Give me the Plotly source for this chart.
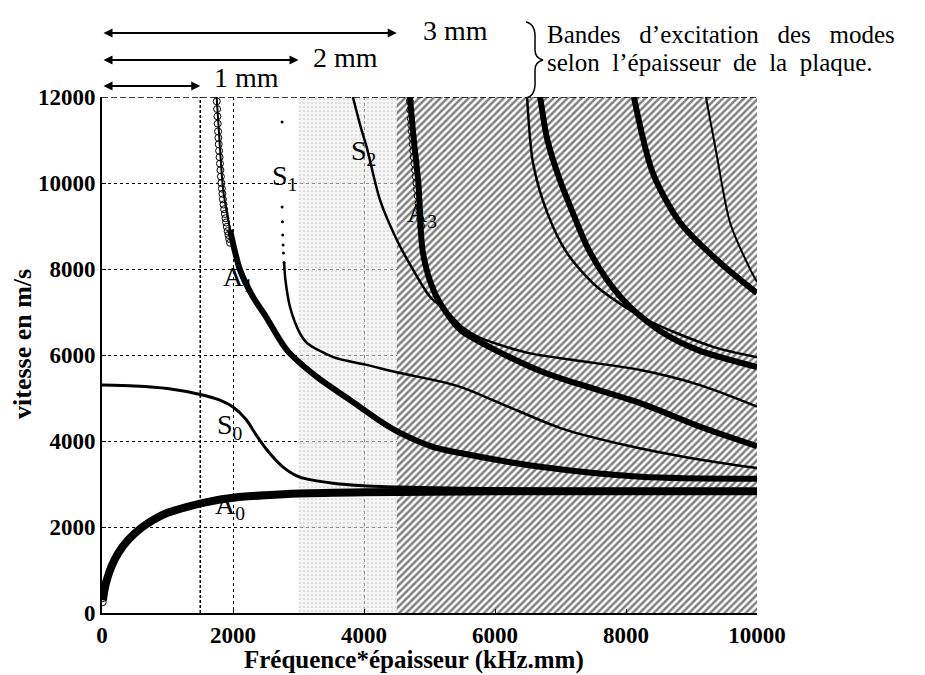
import plotly.graph_objects as go

# ================= data =================
# frequency*thickness in kHz.mm, phase velocity in m/s
A0_x = [15, 40, 80, 150, 250, 400, 600, 800, 1000, 1300, 1600, 2000, 2500, 3000, 4000, 5000, 6000, 8000, 10000]
A0_y = [300, 550, 800, 1100, 1400, 1700, 1980, 2180, 2330, 2470, 2580, 2680, 2740, 2780, 2810, 2820, 2830, 2830, 2830]
A0_ring_x = [10, 15, 20, 28, 38]
A0_ring_y = [250, 350, 450, 560, 680]

S0_x = [0, 500, 1000, 1500, 1800, 2000, 2200, 2350, 2520, 2760, 3020, 3530, 4000, 4550, 5500, 7000, 10000]
S0_y = [5300, 5280, 5220, 5080, 4950, 4790, 4500, 4150, 3790, 3400, 3160, 3020, 2960, 2930, 2900, 2880, 2870]

A1_x = [1750, 1800, 1850, 1955, 2107, 2306, 2500, 2820, 3280, 3790, 4290, 4550, 5060, 5470, 6690, 8220, 10000]
A1_y = [12000, 10840, 9840, 8910, 7980, 7350, 6900, 6120, 5490, 4950, 4420, 4190, 3860, 3720, 3400, 3170, 3120]
A1_ring_x = [1752, 1757, 1762, 1767, 1772, 1777, 1782, 1788, 1795, 1801, 1808, 1815, 1822, 1830,
             1838, 1846, 1855, 1865, 1875, 1885, 1895, 1906, 1918, 1930, 1942, 1955]
A1_ring_y = [11900, 11720, 11550, 11380, 11200, 11050, 10900, 10750, 10600, 10450, 10300, 10150, 10000, 9870,
             9750, 9620, 9500, 9390, 9280, 9180, 9080, 8980, 8880, 8790, 8700, 8610]

S1_dot_x = [2750, 2750, 2755, 2760, 2765, 2770, 2780]
S1_dot_y = [11420, 9440, 9100, 8790, 8560, 8370, 8150]
S1_x = [2780, 2800, 2870, 3020, 3130, 3530, 4040, 4550, 5060, 5470, 6200, 7000, 8000, 9000, 10000]
S1_y = [8150, 7750, 7120, 6510, 6280, 5950, 5770, 5580, 5420, 5260, 4800, 4300, 3900, 3600, 3370]

S2_x = [3830, 3950, 4040, 4245, 4500, 4750, 5010, 5240, 5500, 5740, 6500, 7220, 8220, 9130, 10000]
S2_y = [12000, 11300, 10840, 9600, 8680, 7980, 7350, 7050, 6650, 6420, 6050, 5880, 5650, 5300, 4800]

A3_x = [4700, 4760, 4830, 4900, 5080, 5340, 5500, 6000, 6770, 7220, 8220, 9100, 10000]
A3_y = [12000, 11000, 10000, 8370, 7440, 6810, 6550, 6120, 5580, 5350, 4880, 4350, 3880]
A3_ring_x = [4700, 4708, 4715, 4722, 4730, 4738, 4745, 4752, 4760, 4770, 4780, 4790, 4800, 4810, 4820, 4832, 4845, 4858, 4870]
A3_ring_y = [11900, 11700, 11500, 11350, 11200, 11050, 10900, 10750, 10600, 10450, 10300, 10150, 10000, 9850,
             9700, 9520, 9350, 9170, 9000]

A4_x = [6690, 6800, 6990, 7190, 7410, 7710, 8060, 8570, 9090, 10000]
A4_y = [12000, 11000, 10070, 9300, 8510, 7750, 7120, 6510, 6120, 5720]

S3_x = [6490, 6580, 6800, 7100, 7560, 8320, 9330, 10000]
S3_y = [12000, 10470, 9300, 8370, 7580, 6820, 6190, 5950]

A5_x = [8120, 8410, 8830, 9440, 10000]
A5_y = [12000, 10230, 9070, 8140, 7440]

S4_x = [9220, 9390, 9590, 9900, 10000]
S4_y = [12000, 10610, 9070, 7980, 7700]

# excitation band limits for 1, 2 and 3 mm plates
BAND_LIMITS = [1500, 3000, 4500]
X_MAX = 10000
Y_MAX = 12000
X_TICKS = [0, 2000, 4000, 6000, 8000, 10000]
Y_TICKS = [0, 2000, 4000, 6000, 8000, 10000, 12000]

FONT = "Liberation Serif"

# plot area on screen, in pixels (the page body adds an 8 px offset)
L, R, T, B = 102, 757, 97, 613
OFF = 8


def px(x):
    return (x - L) / (R - L)


def py(y):
    return (B - y) / (B - T)


fig = go.Figure()

# stippled band 2 mm -> 3 mm
fig.add_trace(go.Scatter(
    x=[BAND_LIMITS[1], BAND_LIMITS[2], BAND_LIMITS[2], BAND_LIMITS[1]],
    y=[0, 0, Y_MAX, Y_MAX], fill="toself", mode="none", hoverinfo="skip",
    fillcolor="rgba(0,0,0,0)",
    fillpattern=dict(shape=".", fgcolor="#9a9a9a", bgcolor="rgba(240,240,240,0.6)", size=4, solidity=0.15),
))
# hatched band beyond 3 mm
fig.add_trace(go.Scatter(
    x=[BAND_LIMITS[2], X_MAX, X_MAX, BAND_LIMITS[2]],
    y=[0, 0, Y_MAX, Y_MAX], fill="toself", mode="none", hoverinfo="skip",
    fillcolor="white",
    fillpattern=dict(shape="/", fgcolor="black", bgcolor="white", size=5, solidity=0.5),
))


def curve(x, y, width):
    fig.add_trace(go.Scatter(x=x, y=y, mode="lines", hoverinfo="skip",
                             line=dict(color="black", width=width, shape="spline", smoothing=0.8)))


def rings(x, y, size=7):
    fig.add_trace(go.Scatter(x=x, y=y, mode="markers", hoverinfo="skip",
                             marker=dict(symbol="circle-open", size=size, color="black",
                                         line=dict(width=1, color="black"))))


curve(S0_x, S0_y, 3)
curve(A0_x, A0_y, 8)
rings(A0_ring_x, A0_ring_y)
curve(A1_x[3:], A1_y[3:], 6)
curve(A1_x[:4], A1_y[:4], 2)
rings(A1_ring_x, A1_ring_y)
curve(S1_x, S1_y, 2.5)
fig.add_trace(go.Scatter(x=S1_dot_x, y=S1_dot_y, mode="markers", hoverinfo="skip",
                         marker=dict(size=3, color="black")))
curve(S2_x, S2_y, 2.5)
curve(A3_x, A3_y, 6)
rings(A3_ring_x, A3_ring_y)
curve(S3_x, S3_y, 2.5)
curve(A4_x, A4_y, 6)
curve(A5_x, A5_y, 6)
curve(S4_x, S4_y, 2)

# dashed line at the 1 mm band limit and dashed top border
fig.add_shape(type="line", x0=BAND_LIMITS[0], x1=BAND_LIMITS[0], y0=0, y1=Y_MAX,
              line=dict(color="black", width=1.5, dash="3px,2px"))
fig.add_shape(type="line", x0=0, x1=X_MAX, y0=Y_MAX, y1=Y_MAX,
              line=dict(color="black", width=1.5, dash="6px,3px"))

# band arrows
for lim, yp in zip(BAND_LIMITS, [py(86), py(60), py(33)]):
    fig.add_annotation(x=lim, y=yp, xref="x", yref="paper", ax=0, axref="x", ay=0, ayref="pixel",
                       text="", showarrow=True, arrowhead=2, arrowside="end+start",
                       arrowwidth=2, arrowsize=0.9, arrowcolor="black")

hdr = dict(xref="paper", yref="paper", showarrow=False, xanchor="center", yanchor="middle",
           font=dict(family=FONT, size=28, color="black"))
fig.add_annotation(x=px(455), y=py(30), text="3 mm", **hdr)
fig.add_annotation(x=px(345), y=py(57), text="2 mm", **hdr)
fig.add_annotation(x=px(246), y=py(78), text="1 mm", **hdr)

# curly brace
pts = [(526, 22), (536, 24), (535, 40), (535, 50), (535, 58), (543, 60), (535, 62), (535, 70), (535, 80), (536, 96), (526, 98)]
p = [(px(a), py(b)) for a, b in pts]
path = (f"M {p[0][0]},{p[0][1]} Q {p[1][0]},{p[1][1]} {p[2][0]},{p[2][1]} L {p[3][0]},{p[3][1]} "
        f"Q {p[4][0]},{p[4][1]} {p[5][0]},{p[5][1]} Q {p[6][0]},{p[6][1]} {p[7][0]},{p[7][1]} "
        f"L {p[8][0]},{p[8][1]} Q {p[9][0]},{p[9][1]} {p[10][0]},{p[10][1]}")
fig.add_shape(type="path", xref="paper", yref="paper", path=path, line=dict(color="black", width=1.5))

note = dict(xref="paper", yref="paper", showarrow=False, xanchor="left", yanchor="middle",
            font=dict(family=FONT, size=25, color="black"))
fig.add_annotation(x=px(545), y=py(34), text=("\u00a0" * 3).join(["Bandes", "d’excitation", "des", "modes"]), **note)
fig.add_annotation(x=px(545), y=py(62), text=("\u00a0" * 2).join(["selon", "l’épaisseur", "de", "la", "plaque."]), **note)

# mode labels
lab = dict(showarrow=False, font=dict(family=FONT, size=28, color="black"))
fig.add_annotation(x=2780, y=10120, text="S<sub>1</sub>", **lab)
fig.add_annotation(x=3990, y=10720, text="S<sub>2</sub>", **lab)
fig.add_annotation(x=2080, y=7780, text="A<sub>1</sub>", **lab)
fig.add_annotation(x=4880, y=9260, text="A<sub>3</sub>", **lab)
fig.add_annotation(x=1950, y=4330, text="S<sub>0</sub>", **lab)
fig.add_annotation(x=1950, y=2470, text="A<sub>0</sub>", **lab)

# axis titles
fig.add_annotation(x=px(414), y=py(660), xref="paper", yref="paper", showarrow=False,
                   xanchor="center", yanchor="middle",
                   text="Fréquence*épaisseur (kHz.mm)",
                   font=dict(family=FONT, size=25, color="black", weight="bold"))
fig.add_annotation(x=px(22), y=py(344), xref="paper", yref="paper", showarrow=False, textangle=-90,
                   xanchor="center", yanchor="middle",
                   text="vitesse en m/s",
                   font=dict(family=FONT, size=26, color="black", weight="bold"))

axis_common = dict(showgrid=True, gridcolor="black", griddash="dot", gridwidth=1, zeroline=False,
                   showline=True, linecolor="black", linewidth=2, ticks="inside", ticklen=4,
                   tickcolor="black", tickfont=dict(family=FONT, size=23, color="black", weight="bold"))
fig.update_xaxes(range=[0, X_MAX], tickvals=X_TICKS, ticktext=[str(v) for v in X_TICKS], **axis_common)
fig.update_yaxes(range=[0, Y_MAX], tickvals=Y_TICKS, ticktext=[str(v) for v in Y_TICKS], **axis_common)

fig.update_layout(width=925, height=675,
                  margin=dict(l=L - OFF, r=925 - R + OFF, t=T - OFF, b=675 - B + OFF),
                  plot_bgcolor="white", paper_bgcolor="white", showlegend=False,
                  font=dict(family=FONT, color="black"))

fig.write_html("out.html")
